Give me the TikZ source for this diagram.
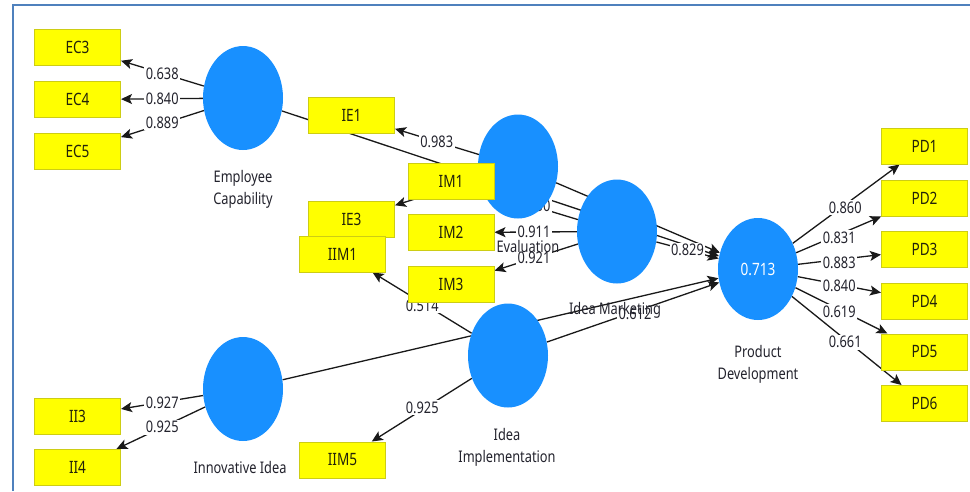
\documentclass[tikz,border=0pt]{standalone}
\usepackage{fontspec}
\setmainfont[FakeStretch=0.8]{Noto Sans}
\usetikzlibrary{shapes.geometric,arrows.meta,calc}
\pgfdeclarelayer{bg}
\pgfdeclarelayer{edges}
\pgfdeclarelayer{labels}
\pgfsetlayers{bg,edges,labels,main}
\definecolor{lvblue}{RGB}{24,144,255}
\definecolor{mvfill}{RGB}{255,255,0}
\definecolor{mvline}{RGB}{205,205,20}
\definecolor{mvtext}{RGB}{35,35,10}
\definecolor{framecol}{RGB}{79,129,189}
\definecolor{txtcol}{RGB}{35,35,45}
\definecolor{linecol}{RGB}{25,25,25}
\begin{document}
\begin{tikzpicture}[x=1pt,y=-1pt,
  lvnode/.style={ellipse, fill=lvblue, minimum width=80pt, minimum height=104pt, inner sep=0pt,
    text=white, font=\fontsize{17}{17}\selectfont},
  mvnode/.style={rectangle, draw=mvline, line width=1pt, fill=mvfill, minimum width=86pt,
    minimum height=36pt, inner sep=0pt, text=mvtext, font=\fontsize{17}{17}\selectfont},
  lvlab/.style={align=center, text=txtcol, inner sep=0pt, font=\fontsize{16}{22}\selectfont},
  coef/.style={fill=white, inner sep=1.5pt, text=txtcol, font=\fontsize{16}{16}\selectfont},
  conn/.style={draw=linecol, line width=1.3pt, -{Stealth[length=11pt,width=10pt,inset=2.5pt]}},
]
\useasboundingbox (0,0) rectangle (970,491);
\begin{pgfonlayer}{bg}
\fill[white] (0,0) rectangle (970,491);
\draw[framecol, line width=2.2pt] (13,491) -- (13,5) -- (970,5);
\end{pgfonlayer}

% latent variables
\node[lvnode] (ec) at (243,98) {};
\node[lvnode] (ev) at (518,166.5) {};
\node[lvnode] (im) at (617,231.5) {};
\node[lvnode, minimum height=102pt] (pd) at (758,269) {0.713};
\node[lvnode] (ii) at (243,389) {};
\node[lvnode] (ip) at (508,355.5) {};

% indicators
\node[mvnode] (ec3) at (77.5,47.5) {EC3};
\node[mvnode] (ec4) at (77.5,99.5) {EC4};
\node[mvnode] (ec5) at (77.5,151) {EC5};
\node[mvnode] (ie1) at (351.5,115.5) {IE1};
\node[mvnode] (ie3) at (351.5,219) {IE3};
\node[mvnode] (iim1) at (342.5,254) {IIM1};
\node[mvnode] (im1) at (451,181) {IM1};
\node[mvnode] (im2) at (451,232.5) {IM2};
\node[mvnode] (im3) at (451,284.5) {IM3};
\node[mvnode] (ii3) at (77.5,416) {II3};
\node[mvnode] (ii4) at (77.5,467.5) {II4};
\node[mvnode] (iim5) at (342.5,460) {IIM5};
\node[mvnode] (pd1) at (924.5,146) {PD1};
\node[mvnode] (pd2) at (924.5,198) {PD2};
\node[mvnode] (pd3) at (924.5,249.5) {PD3};
\node[mvnode] (pd4) at (924.5,301) {PD4};
\node[mvnode] (pd5) at (924.5,352) {PD5};
\node[mvnode] (pd6) at (924.5,403.5) {PD6};

% latent labels
\node[lvlab] (lec) at (243,189) {Employee\\Capability};
\node[lvlab] (lev) at (528,246) {Evaluation};
\node[lvlab] (lim) at (615,310) {Idea Marketing};
\node[lvlab] (lpd) at (758,364.5) {Product\\Development};
\node[lvlab] (lii) at (240,467) {Innovative Idea};
\node[lvlab] (lip) at (507,447.5) {Idea\\Implementation};

\begin{pgfonlayer}{edges}
  \draw[conn] (ec) -- (ec3);
  \draw[conn] (ec) -- (ec4);
  \draw[conn] (ec) -- (ec5);
  \draw[conn] (ev) -- (ie1);
  \draw[conn] (ev) -- (ie3);
  \draw[conn] (im) -- (im1);
  \draw[conn] (im) -- (im2);
  \draw[conn] (im) -- (im3);
  \draw[conn] (ii) -- (ii3);
  \draw[conn] (ii) -- (ii4);
  \draw[conn] (ip) -- (iim1);
  \draw[conn] (ip) -- (iim5);
  \draw[conn] (pd) -- (pd1);
  \draw[conn] (pd) -- (pd2);
  \draw[conn] (pd) -- (pd3);
  \draw[conn] (pd) -- (pd4);
  \draw[conn] (pd) -- (pd5);
  \draw[conn] (pd) -- (pd6);
  \draw[conn] (ec) -- (pd);
  \draw[conn] (ev) -- (pd);
  \draw[conn] (im) -- (pd);
  \draw[conn] (ii) -- (pd);
  \draw[conn] (ip) -- (pd);
\end{pgfonlayer}

\begin{pgfonlayer}{labels}
  \node[coef] (c1) at ($(ec)!.5!(ec3)+(2,1)$) {0.638};
  \node[coef] (c2) at ($(ec)!.5!(ec4)+(2,0)$) {0.840};
  \node[coef] (c3) at ($(ec)!.5!(ec5)+(2,-2)$) {0.889};
  \node[coef] (c4) at ($(ev)!.5!(ie1)+(2,1)$) {0.983};
  \node[coef] (c5) at ($(im)!.5!(im1)$) {0.830};
  \node[coef] (c6) at ($(im)!.5!(im2)$) {0.911};
  \node[coef] (c7) at ($(im)!.5!(im3)$) {0.921};
  \node[coef] (c8) at ($(ii)!.5!(ii3)+(2,0)$) {0.927};
  \node[coef] (c9) at ($(ii)!.5!(ii4)+(2,-1)$) {0.925};
  \node[coef] (c10) at ($(ip)!.5!(iim1)+(-3,1)$) {0.514};
  \node[coef] (c11) at ($(ip)!.5!(iim5)+(-3,0)$) {0.925};
  \node[coef] (c12) at ($(im)!.5!(pd)$) {0.829};
  \node[coef] (c13) at ($(ip)!.5!(pd)+(2,2)$) {0.612};
  \node[coef] (c14) at ($(pd)!.5!(pd1)+(4,0)$) {0.860};
  \node[coef] (c15) at ($(pd)!.5!(pd2)+(-2,4)$) {0.831};
  \node[coef] (c16) at ($(pd)!.5!(pd3)+(-2,4)$) {0.883};
  \node[coef] (c17) at ($(pd)!.5!(pd4)+(-2,1)$) {0.840};
  \node[coef] (c18) at ($(pd)!.5!(pd5)+(-2,1)$) {0.619};
  \node[coef] (c19) at ($(pd)!.5!(pd6)+(4,6)$) {0.661};
\end{pgfonlayer}
\end{tikzpicture}
\end{document}
